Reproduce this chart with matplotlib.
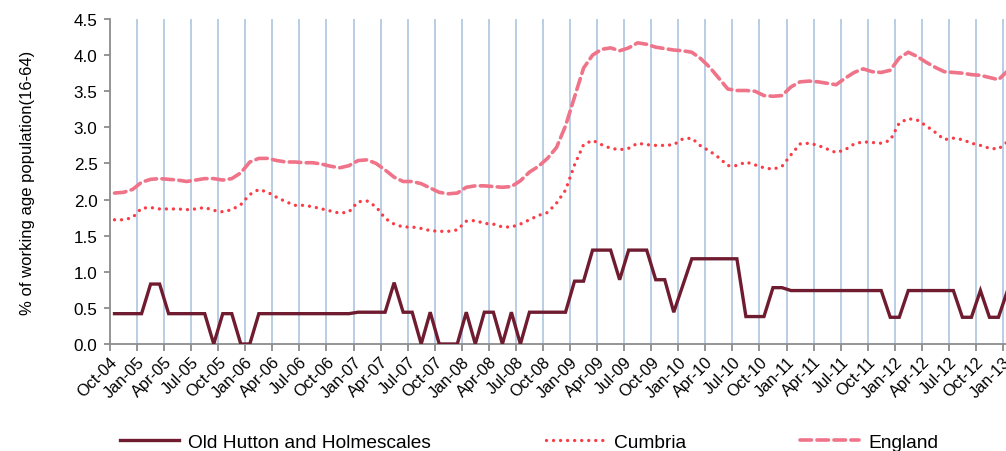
import numpy as np
import matplotlib.pyplot as plt

plt.rcParams['font.family'] = ['Liberation Sans', 'DejaVu Sans']

# Monthly values from Oct-04 onwards (% of working age population 16-64)
old_hutton = [0.42, 0.42, 0.42, 0.42, 0.83, 0.83, 0.42, 0.42, 0.42, 0.42,
              0.42, 0.0, 0.42, 0.42, 0.0, 0.0, 0.42, 0.42, 0.42, 0.42,
              0.42, 0.42, 0.42, 0.42, 0.42, 0.42, 0.42, 0.44, 0.44, 0.44,
              0.44, 0.85, 0.44, 0.44, 0.0, 0.44, 0.0, 0.0, 0.0, 0.44,
              0.0, 0.44, 0.44, 0.0, 0.44, 0.0, 0.44, 0.44, 0.44, 0.44,
              0.44, 0.87, 0.87, 1.30, 1.30, 1.30, 0.89, 1.30, 1.30, 1.30,
              0.89, 0.89, 0.44, 0.81, 1.18, 1.18, 1.18, 1.18, 1.18, 1.18,
              0.38, 0.38, 0.38, 0.78, 0.78, 0.74, 0.74, 0.74, 0.74, 0.74,
              0.74, 0.74, 0.74, 0.74, 0.74, 0.74, 0.37, 0.37, 0.74, 0.74,
              0.74, 0.74, 0.74, 0.74, 0.37, 0.37, 0.74, 0.37, 0.37, 0.74]

cumbria = [1.72, 1.72, 1.75, 1.88, 1.89, 1.87, 1.87, 1.87, 1.86, 1.87,
           1.89, 1.85, 1.83, 1.86, 1.93, 2.07, 2.14, 2.10, 2.03, 1.97,
           1.92, 1.92, 1.90, 1.87, 1.84, 1.81, 1.83, 1.97, 1.98, 1.90,
           1.74, 1.66, 1.62, 1.62, 1.60, 1.57, 1.56, 1.56, 1.58, 1.70,
           1.71, 1.67, 1.66, 1.62, 1.62, 1.66, 1.72, 1.78, 1.82, 1.95,
           2.13, 2.48, 2.76, 2.82, 2.76, 2.71, 2.69, 2.71, 2.78, 2.76,
           2.75, 2.75, 2.76, 2.84, 2.85, 2.74, 2.67, 2.58, 2.47, 2.47,
           2.52, 2.48, 2.44, 2.42, 2.46, 2.62, 2.77, 2.78, 2.75, 2.70,
           2.65, 2.69, 2.77, 2.80, 2.79, 2.78, 2.82, 3.06, 3.12, 3.10,
           3.02, 2.93, 2.83, 2.85, 2.83, 2.78, 2.75, 2.71, 2.70, 2.80]

england = [2.09, 2.10, 2.14, 2.24, 2.28, 2.29, 2.28, 2.27, 2.25, 2.27,
           2.29, 2.29, 2.27, 2.29, 2.37, 2.52, 2.57, 2.57, 2.54, 2.52,
           2.52, 2.51, 2.51, 2.49, 2.46, 2.44, 2.47, 2.54, 2.55, 2.50,
           2.41, 2.31, 2.25, 2.25, 2.22, 2.16, 2.10, 2.08, 2.09, 2.17,
           2.19, 2.19, 2.18, 2.17, 2.18, 2.26, 2.38, 2.46, 2.57, 2.72,
           3.02, 3.42, 3.82, 4.00, 4.08, 4.10, 4.06, 4.10, 4.17, 4.15,
           4.11, 4.09, 4.07, 4.06, 4.04, 3.95, 3.83, 3.68, 3.53, 3.51,
           3.51, 3.50, 3.44, 3.43, 3.44, 3.56, 3.63, 3.64, 3.63, 3.61,
           3.59, 3.68, 3.76, 3.81, 3.77, 3.76, 3.79, 3.96, 4.04, 3.98,
           3.90, 3.83, 3.77, 3.76, 3.75, 3.73, 3.72, 3.69, 3.66, 3.78]

tick_labels = ['Oct-04', 'Jan-05', 'Apr-05', 'Jul-05', 'Oct-05', 'Jan-06',
               'Apr-06', 'Jul-06', 'Oct-06', 'Jan-07', 'Apr-07', 'Jul-07',
               'Oct-07', 'Jan-08', 'Apr-08', 'Jul-08', 'Oct-08', 'Jan-09',
               'Apr-09', 'Jul-09', 'Oct-09', 'Jan-10', 'Apr-10', 'Jul-10',
               'Oct-10', 'Jan-11', 'Apr-11', 'Jul-11', 'Oct-11', 'Jan-12',
               'Apr-12', 'Jul-12', 'Oct-12', 'Jan-13']

# points sit in the middle of each month slot, ticks every quarter
x = np.arange(len(england)) + 0.5
ticks = np.arange(len(tick_labels)) * 3

W, H = 1006, 452
fig = plt.figure(figsize=(W / 100, H / 100), dpi=100)
# 9.02 px per month, axes runs past the right edge like the original
x_max = 101
ax = fig.add_axes([110 / W, (H - 345) / H, 9.02 * x_max / W, 325 / H])

grid_col = '#B9CDE5'
axis_col = '#8C8C8C'

for t in ticks[1:]:
    ax.axvline(t, color=grid_col, lw=1.4, zorder=0)

l_old, = ax.plot(x, old_hutton, color='#6F1C30', lw=2.4,
                 solid_joinstyle='miter', zorder=3)
l_cum, = ax.plot(x, cumbria, color='#FA3C46', lw=2.4,
                 ls=(0, (0.01, 2.1)), dash_capstyle='round', zorder=2)
l_eng, = ax.plot(x, england, color='#EF7389', lw=2.6,
                 ls=(0, (3.2, 1.5)), dash_capstyle='round', zorder=2)

ax.set_xlim(0, x_max)
ax.set_ylim(0, 4.5)
ax.set_yticks(np.arange(0, 4.51, 0.5))
ax.set_yticklabels(['%.1f' % v for v in np.arange(0, 4.51, 0.5)], fontsize=12.3)
ax.set_xticks(ticks)
ax.set_xticklabels(tick_labels, rotation=45, ha='right', va='top',
                   rotation_mode='anchor', fontsize=11.8)

for s in ['top', 'right']:
    ax.spines[s].set_visible(False)
for s in ['left', 'bottom']:
    ax.spines[s].set_color(axis_col)
    ax.spines[s].set_linewidth(1.3)
ax.tick_params(axis='x', length=5, width=1.3, color=axis_col, pad=2)
ax.tick_params(axis='y', length=4, width=1.3, color=axis_col, pad=5)

ax.set_ylabel('% of working age population(16-64)', fontsize=12, labelpad=28)

# legend entries placed along the bottom
for h, lab, xpos in [(l_old, 'Old Hutton and Holmescales', 120),
                     (l_cum, 'Cumbria', 546),
                     (l_eng, 'England', 800)]:
    fig.legend(handles=[h], labels=[lab], loc='center left',
               bbox_to_anchor=(xpos / W, (H - 443) / H), frameon=False,
               handlelength=3.1, handletextpad=0.45, fontsize=13.8,
               borderaxespad=0, borderpad=0)

fig.savefig('out.png', dpi=100)
